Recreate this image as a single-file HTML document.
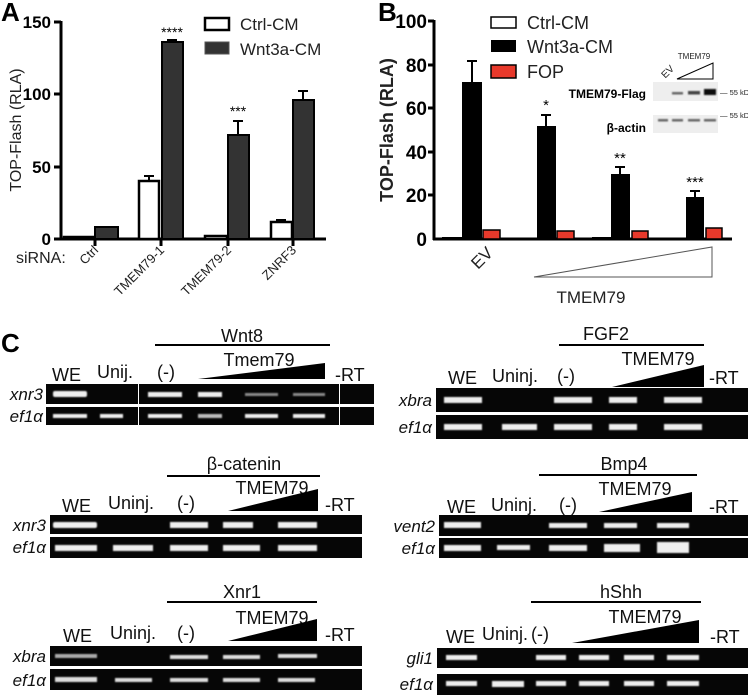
<!DOCTYPE html>
<html><head><meta charset="utf-8"><style>
html,body{margin:0;padding:0;background:#fff}
svg{display:block;font-family:"Liberation Sans",sans-serif}
</style></head><body>
<svg width="748" height="698" viewBox="0 0 748 698" xmlns="http://www.w3.org/2000/svg">
<defs><filter id="bl" x="-20%" y="-50%" width="140%" height="200%"><feGaussianBlur stdDeviation="0.8"/></filter></defs>
<!-- Panel A -->
<text x="1" y="21" font-size="26" font-weight="bold">A</text>
<text transform="translate(21,130) rotate(-90)" font-size="16" text-anchor="middle" fill="#222">TOP-Flash (RLA)</text>
<g stroke="#000" stroke-width="3" fill="none">
<line x1="61" y1="21" x2="61" y2="240"/><line x1="60" y1="239" x2="326" y2="239"/>
<line x1="54" y1="22" x2="61" y2="22"/><line x1="54" y1="94" x2="61" y2="94"/><line x1="54" y1="167" x2="61" y2="167"/><line x1="54" y1="239" x2="61" y2="239"/>
<line x1="95" y1="239" x2="95" y2="246"/><line x1="161" y1="239" x2="161" y2="246"/><line x1="228" y1="239" x2="228" y2="246"/><line x1="293" y1="239" x2="293" y2="246"/>
</g>
<g font-size="17" font-weight="bold" text-anchor="end"><text x="51" y="28">150</text><text x="51" y="100">100</text><text x="51" y="173">50</text><text x="51" y="245">0</text></g>
<g stroke="#000" stroke-width="2.5" fill="#fff">
<rect x="64" y="237" width="30" height="2"/>
<rect x="139" y="181" width="20" height="58"/>
<rect x="205" y="236" width="22" height="3"/>
<rect x="271" y="222" width="21" height="17"/>
</g>
<g stroke="#000" stroke-width="2" fill="#333">
<rect x="95" y="227" width="23" height="12"/>
<rect x="162" y="42" width="21" height="197"/>
<rect x="228" y="135" width="21" height="104"/>
<rect x="293" y="100" width="21" height="139"/>
</g>
<g stroke="#000" stroke-width="2" fill="none">
<path d="M149 181V176M144 176h10"/><path d="M172 42V40M167 40h10"/><path d="M238 135V121M233 121h10"/><path d="M303 100V91M298 91h10"/><path d="M281 222V220M276 220h10"/>
</g>
<g font-size="14" text-anchor="middle"><text x="172" y="37">****</text><text x="238" y="116">***</text></g>
<rect x="205" y="18" width="24" height="12" fill="#fff" stroke="#000" stroke-width="2.5"/>
<rect x="205" y="42" width="24" height="12" fill="#333" stroke="#555" stroke-width="1"/>
<g font-size="17" fill="#222"><text x="240" y="30">Ctrl-CM</text><text x="240" y="55">Wnt3a-CM</text></g>
<text x="16" y="263" font-size="16" fill="#222">siRNA:</text>
<g font-size="13" text-anchor="end" fill="#222">
<text transform="translate(99,251) rotate(-45)">Ctrl</text>
<text transform="translate(165,251) rotate(-45)">TMEM79-1</text>
<text transform="translate(232,251) rotate(-45)">TMEM79-2</text>
<text transform="translate(297,251) rotate(-45)">ZNRF3</text>
</g>
<!-- Panel B -->
<text x="378" y="21" font-size="26" font-weight="bold">B</text>
<text transform="translate(393,130) rotate(-90)" font-size="18" font-weight="bold" text-anchor="middle" fill="#222">TOP-Flash (RLA)</text>
<g stroke="#000" stroke-width="3" fill="none">
<line x1="434" y1="20" x2="434" y2="240"/><line x1="433" y1="239" x2="732" y2="239"/>
<line x1="428" y1="21" x2="434" y2="21"/><line x1="428" y1="65" x2="434" y2="65"/><line x1="428" y1="108" x2="434" y2="108"/><line x1="428" y1="152" x2="434" y2="152"/><line x1="428" y1="195" x2="434" y2="195"/>
</g>
<g font-size="19" font-weight="bold" text-anchor="end"><text x="427" y="28">100</text><text x="427" y="72">80</text><text x="427" y="115">60</text><text x="427" y="159">40</text><text x="427" y="202">20</text><text x="427" y="246">0</text></g>
<g fill="#000">
<rect x="442" y="237" width="20" height="2"/><rect x="517" y="238" width="20" height="1"/><rect x="592" y="237" width="19" height="2"/><rect x="667" y="238" width="19" height="1"/>
<rect x="462" y="82" width="20" height="157"/><rect x="537" y="126" width="19" height="113"/><rect x="611" y="174" width="19" height="65"/><rect x="686" y="197" width="18" height="42"/>
</g>
<g stroke="#000" stroke-width="2" fill="none">
<path d="M472 82V61M467 61h10"/><path d="M546 126V115M541 115h10"/><path d="M620 174V167M615 167h10"/><path d="M695 197V191M690 191h10"/>
</g>
<g fill="#e8392b" stroke="#000" stroke-width="1.5">
<rect x="483" y="230" width="17" height="9"/><rect x="557" y="231" width="17" height="8"/><rect x="632" y="231" width="16" height="8"/><rect x="706" y="228" width="16" height="11"/>
</g>
<g font-size="15" text-anchor="middle"><text x="546" y="110">*</text><text x="620" y="163">**</text><text x="695" y="187">***</text></g>
<rect x="491" y="17" width="25" height="11" fill="#fff" stroke="#000" stroke-width="1.5"/>
<rect x="491" y="40" width="25" height="12" fill="#000"/>
<rect x="491" y="65" width="25" height="13" fill="#e8392b" stroke="#000" stroke-width="1.5"/>
<g font-size="18" fill="#222"><text x="527" y="29">Ctrl-CM</text><text x="527" y="53">Wnt3a-CM</text><text x="527" y="78">FOP</text></g>
<!-- inset blot -->
<text transform="translate(670,74) rotate(-45)" font-size="10" text-anchor="middle" fill="#222">EV</text>
<text x="694" y="59" font-size="8" text-anchor="middle" fill="#222">TMEM79</text>
<polygon points="677,79 713,63 713,79" fill="#fff" stroke="#000" stroke-width="1"/>
<text x="646" y="98" font-size="12" font-weight="bold" text-anchor="end">TMEM79-Flag</text>
<text x="646" y="132" font-size="12" font-weight="bold" text-anchor="end">β-actin</text>
<rect x="653" y="82" width="65" height="19" fill="#eee"/>
<rect x="653" y="115" width="65" height="18" fill="#eee"/>
<g filter="url(#bl)"><rect x="672" y="92" width="11" height="2.5" fill="#666"/><rect x="688" y="91" width="12" height="3.5" fill="#444"/><rect x="704" y="89" width="12" height="6" fill="#111"/>
<rect x="658" y="119" width="10" height="2.5" fill="#666"/><rect x="672" y="119" width="11" height="2.5" fill="#666"/><rect x="688" y="119" width="12" height="2.5" fill="#666"/><rect x="704" y="119" width="12" height="2.5" fill="#666"/></g>
<g font-size="7.5" fill="#222"><text x="720" y="95">— 55 kD</text><text x="720" y="118">— 55 kD</text></g>
<text transform="translate(486,262) rotate(-45)" font-size="17" text-anchor="middle" fill="#222">EV</text>
<polygon points="534,277 712,277 712,247" fill="#fff" stroke="#555" stroke-width="1"/>
<text x="591" y="303" font-size="17" text-anchor="middle" fill="#222">TMEM79</text>
<!-- Panel C -->
<text x="1" y="352" font-size="26" font-weight="bold">C</text>
<!-- gel 1 Wnt8 -->
<g font-size="18" fill="#111">
<text x="242" y="342" text-anchor="middle">Wnt8</text>
<text x="259" y="366" text-anchor="middle">Tmem79</text>
<text x="52" y="381">WE</text><text x="97" y="378">Unij.</text><text x="157" y="378">(-)</text><text x="335" y="381">-RT</text>
</g>
<line x1="155" y1="345" x2="330" y2="345" stroke="#000" stroke-width="2"/>
<polygon points="198,379 325,379 325,363" fill="#000"/>
<g font-size="17" font-style="italic" fill="#111" text-anchor="end"><text x="43" y="400">xnr3</text><text x="43" y="422">ef1α</text></g>
<rect x="46" y="384" width="328" height="20" fill="#060606"/><rect x="46" y="407" width="328" height="18" fill="#060606"/>
<g fill="#fff"><rect x="138" y="384" width="1" height="41"/><rect x="339" y="384" width="1" height="41"/></g>
<g fill="#eee" filter="url(#bl)">
<rect x="53" y="391" width="34" height="6" rx="2"/><rect x="148" y="392" width="34" height="5"/><rect x="198" y="392" width="24" height="5"/><rect x="245" y="393" width="33" height="3" fill="#888"/><rect x="293" y="393" width="32" height="3" fill="#888"/>
<rect x="53" y="414" width="34" height="4"/><rect x="100" y="414" width="23" height="4"/><rect x="148" y="414" width="34" height="4"/><rect x="198" y="414" width="24" height="4" fill="#bbb"/><rect x="245" y="414" width="33" height="4"/><rect x="293" y="414" width="32" height="4"/>
</g>
<!-- gel beta-catenin -->
<g font-size="18" fill="#111">
<text x="244" y="470" text-anchor="middle">β-catenin</text>
<text x="272" y="494" text-anchor="middle">TMEM79</text>
<text x="62" y="512">WE</text><text x="108" y="509">Uninj.</text><text x="177" y="509">(-)</text><text x="325" y="511">-RT</text>
</g>
<line x1="167" y1="476" x2="320" y2="476" stroke="#000" stroke-width="2"/>
<polygon points="228,511 318,511 318,489" fill="#000"/>
<g font-size="17" font-style="italic" fill="#111" text-anchor="end"><text x="46" y="531">xnr3</text><text x="46" y="553">ef1α</text></g>
<rect x="50" y="515" width="312" height="19" fill="#060606"/><rect x="50" y="537" width="312" height="21" fill="#060606"/>
<g fill="#eee" filter="url(#bl)">
<rect x="53" y="522" width="44" height="6" rx="2"/><rect x="170" y="522" width="38" height="6"/><rect x="223" y="522" width="30" height="6"/><rect x="278" y="522" width="39" height="6"/>
<rect x="55" y="545" width="42" height="6"/><rect x="113" y="545" width="40" height="6"/><rect x="170" y="545" width="38" height="6"/><rect x="223" y="545" width="37" height="6"/><rect x="278" y="545" width="39" height="6"/>
</g>
<!-- gel Xnr1 -->
<g font-size="18" fill="#111">
<text x="242" y="598" text-anchor="middle">Xnr1</text>
<text x="272" y="624" text-anchor="middle">TMEM79</text>
<text x="63" y="642">WE</text><text x="110" y="639">Uninj.</text><text x="177" y="639">(-)</text><text x="325" y="641">-RT</text>
</g>
<line x1="167" y1="602" x2="317" y2="602" stroke="#000" stroke-width="2"/>
<polygon points="228,641 317,641 317,619" fill="#000"/>
<g font-size="17" font-style="italic" fill="#111" text-anchor="end"><text x="46" y="662">xbra</text><text x="46" y="686">ef1α</text></g>
<rect x="50" y="646" width="312" height="20" fill="#060606"/><rect x="50" y="669" width="312" height="21" fill="#060606"/>
<g fill="#ddd" filter="url(#bl)">
<rect x="55" y="654" width="42" height="4" fill="#aaa"/><rect x="170" y="655" width="38" height="4"/><rect x="223" y="655" width="37" height="4"/><rect x="278" y="654" width="39" height="4"/>
<rect x="55" y="677" width="42" height="5"/><rect x="115" y="678" width="37" height="4"/><rect x="170" y="678" width="38" height="4"/><rect x="223" y="678" width="37" height="4"/><rect x="278" y="678" width="37" height="4"/>
</g>
<!-- gel FGF2 -->
<g font-size="18" fill="#111">
<text x="606" y="340" text-anchor="middle">FGF2</text>
<text x="658" y="365" text-anchor="middle">TMEM79</text>
<text x="448" y="384">WE</text><text x="492" y="382">Uninj.</text><text x="557" y="382">(-)</text><text x="709" y="384">-RT</text>
</g>
<line x1="559" y1="345" x2="704" y2="345" stroke="#000" stroke-width="2"/>
<polygon points="612,387 704,387 704,365" fill="#000"/>
<g font-size="17" font-style="italic" fill="#111" text-anchor="end"><text x="432" y="406">xbra</text><text x="432" y="433">ef1α</text></g>
<rect x="436" y="388" width="312" height="24" fill="#060606"/><rect x="436" y="415" width="312" height="24" fill="#060606"/>
<g fill="#eee" filter="url(#bl)">
<rect x="444" y="397" width="38" height="6"/><rect x="554" y="397" width="38" height="6"/><rect x="609" y="397" width="28" height="6"/><rect x="664" y="397" width="38" height="6"/>
<rect x="444" y="424" width="38" height="6"/><rect x="502" y="424" width="35" height="6"/><rect x="554" y="424" width="38" height="6"/><rect x="609" y="424" width="28" height="6"/><rect x="664" y="424" width="38" height="6"/>
</g>
<!-- gel Bmp4 -->
<g font-size="18" fill="#111">
<text x="624" y="470" text-anchor="middle">Bmp4</text>
<text x="635" y="495" text-anchor="middle">TMEM79</text>
<text x="447" y="513">WE</text><text x="491" y="511">Uninj.</text><text x="559" y="511">(-)</text><text x="709" y="513">-RT</text>
</g>
<line x1="539" y1="475" x2="697" y2="475" stroke="#000" stroke-width="2"/>
<polygon points="599,512 692,512 692,492" fill="#000"/>
<g font-size="17" font-style="italic" fill="#111" text-anchor="end"><text x="435" y="532">vent2</text><text x="435" y="554">ef1α</text></g>
<rect x="439" y="515" width="309" height="21" fill="#060606"/><rect x="439" y="538" width="309" height="20" fill="#060606"/>
<g fill="#eee" filter="url(#bl)">
<rect x="444" y="522" width="37" height="6"/><rect x="549" y="523" width="38" height="5"/><rect x="604" y="523" width="33" height="5"/><rect x="657" y="523" width="32" height="5"/>
<rect x="444" y="545" width="37" height="6"/><rect x="497" y="545" width="33" height="5"/><rect x="549" y="545" width="38" height="6"/><rect x="604" y="544" width="36" height="8"/><rect x="657" y="542" width="32" height="11"/>
</g>
<!-- gel hShh -->
<g font-size="18" fill="#111">
<text x="621" y="598" text-anchor="middle">hShh</text>
<text x="645" y="623" text-anchor="middle">TMEM79</text>
<text x="446" y="643">WE</text><text x="482" y="640">Uninj.</text><text x="531" y="640">(-)</text><text x="710" y="643">-RT</text>
</g>
<line x1="531" y1="602" x2="701" y2="602" stroke="#000" stroke-width="2"/>
<polygon points="572,643 699,643 699,620" fill="#000"/>
<g font-size="17" font-style="italic" fill="#111" text-anchor="end"><text x="433" y="664">gli1</text><text x="433" y="690">ef1α</text></g>
<rect x="437" y="648" width="311" height="20" fill="#060606"/><rect x="437" y="674" width="311" height="21" fill="#060606"/>
<g fill="#eee" filter="url(#bl)">
<rect x="446" y="655" width="31" height="5"/><rect x="536" y="655" width="30" height="5"/><rect x="579" y="655" width="30" height="5"/><rect x="624" y="655" width="30" height="5"/><rect x="667" y="655" width="32" height="5"/>
<rect x="446" y="681" width="31" height="5"/><rect x="492" y="681" width="32" height="6"/><rect x="536" y="681" width="30" height="5"/><rect x="579" y="681" width="30" height="5"/><rect x="624" y="681" width="30" height="5"/><rect x="667" y="681" width="32" height="5"/>
</g>
</svg>
</body></html>
